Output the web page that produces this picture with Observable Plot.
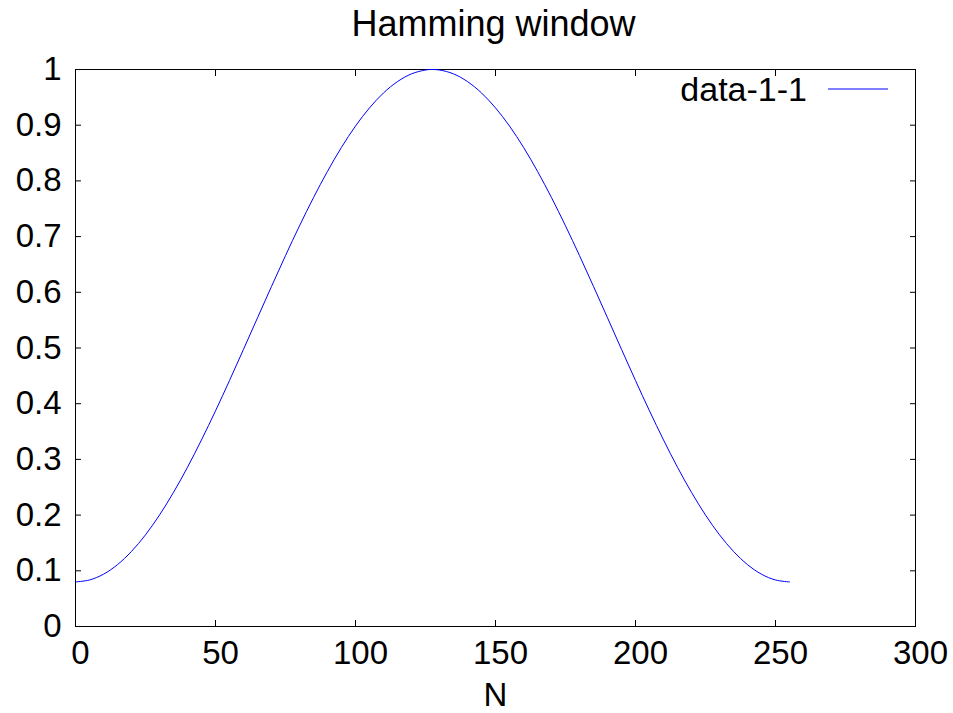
<!DOCTYPE html>
<html>
<head>
<meta charset="utf-8">
<script src="https://cdn.jsdelivr.net/npm/d3@7"></script>
<script src="https://cdn.jsdelivr.net/npm/@observablehq/plot@0.6"></script>
<style>
  html, body { margin: 0; padding: 0; background: #fff; }
  #wrap { position: relative; width: 953px; height: 713px; font-family: "Liberation Sans", Arial, sans-serif; }
  #legend { position: absolute; top: 70px; right: 65px; display: flex; align-items: center; font-size: 34px; color: #000; line-height: 38px; }
  #legend svg { margin-left: 21px; }
</style>
</head>
<body>
<div id="wrap">
  <div id="legend"><span>data-1-1</span><svg width="60" height="4"><line x1="0" x2="60" y1="2" y2="2" stroke="#0000ff" stroke-width="1"/></svg></div>
</div>
<script>
const title = "Hamming window";
const xLabel = "N";
const seriesName = "data-1-1";
const nValues = [0,5,10,15,20,25,30,35,40,45,50,55,60,65,70,75,80,85,90,95,100,105,110,115,120,125,127,
  130,135,140,145,150,155,160,165,170,175,180,185,190,195,200,205,210,215,220,225,230,235,240,245,250,255];
const wValues = [0.080,0.0835,0.0939,0.1111,0.1348,0.1646,0.2001,0.2408,0.2859,0.3350,0.3871,0.4416,0.4976,0.5542,0.6105,0.6659,0.7193,0.7700,0.8172,0.8603,0.8985,0.9311,0.9579,0.9783,0.9922,0.9991,1.0000,
  0.9991,0.9922,0.9783,0.9579,0.9311,0.8985,0.8603,0.8172,0.7700,0.7193,0.6659,0.6105,0.5542,0.4976,0.4416,0.3871,0.3350,0.2859,0.2408,0.2001,0.1646,0.1348,0.1111,0.0939,0.0835,0.080];
const xTicks = [0,50,100,150,200,250,300];
const yTicks = [0,0.1,0.2,0.3,0.4,0.5,0.6,0.7,0.8,0.9,1];
const yTickLabels = ["0","0.1","0.2","0.3","0.4","0.5","0.6","0.7","0.8","0.9","1"];

const data = nValues.map((n, i) => ({n, w: wValues[i]}));
document.querySelector("#legend span").textContent = seriesName;

const chart = Plot.plot({
  width: 953,
  height: 713,
  marginLeft: 75,
  marginRight: 38,
  marginTop: 69,
  marginBottom: 87,
  style: {fontFamily: "'Liberation Sans', Arial, sans-serif", fontSize: "33px", color: "#000", background: "#fff"},
  x: {domain: [0, 300]},
  y: {domain: [0, 1]},
  marks: [
    Plot.frame({stroke: "#000", strokeWidth: 1}),
    Plot.axisX({anchor: "bottom", ticks: xTicks, tickSize: -6, tickFormat: () => "", label: null}),
    Plot.axisX({anchor: "bottom", ticks: xTicks, tickSize: 0, tickPadding: 14, dx: 5, tickFormat: d => String(d), label: null}),
    Plot.text([xLabel], {frameAnchor: "bottom", dy: 79, lineAnchor: "bottom", fontSize: 33, text: d => d}),
    Plot.axisX({anchor: "top", ticks: xTicks, tickSize: -6, tickFormat: () => "", label: null}),
    Plot.axisY({anchor: "left", ticks: yTicks, tickSize: -6, tickPadding: 20, tickFormat: (d, i) => yTickLabels[i], label: null}),
    Plot.axisY({anchor: "right", ticks: yTicks, tickSize: -6, tickFormat: () => "", label: null}),
    Plot.line(data, {x: "n", y: "w", stroke: "#0000ff", strokeWidth: 1, curve: "catmull-rom"}),
    Plot.text([title], {frameAnchor: "top", dy: -59, dx: -2, lineAnchor: "top", fontSize: 36, text: d => d})
  ]
});
document.getElementById("wrap").prepend(chart);
</script>
</body>
</html>
